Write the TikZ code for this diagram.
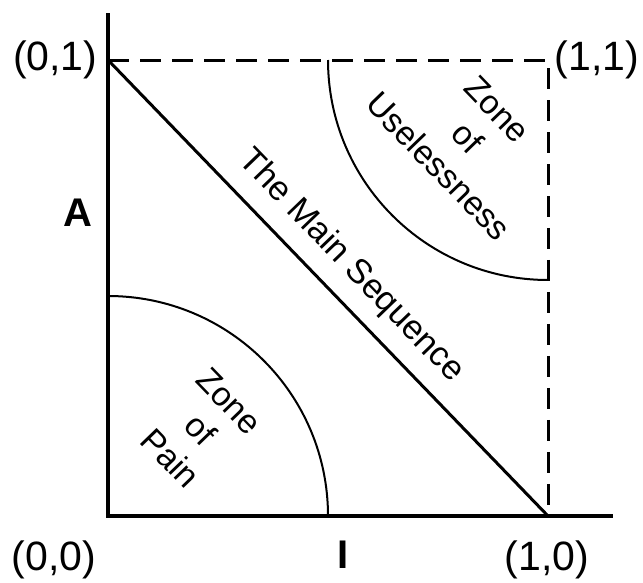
\documentclass[tikz,border=0pt]{standalone}
\usepackage{fontspec}
\setmainfont{Liberation Sans}
\usetikzlibrary{positioning}

\begin{document}
\begin{tikzpicture}[x=220pt,y=228pt,
    axis/.style={line width=2pt},
    seqline/.style={line width=1.5pt},
    bound/.style={line width=1.5pt,dash pattern=on 10.5pt off 5.5pt},
    zonearc/.style={line width=1pt},
    corner/.style={inner sep=0pt,font=\fontsize{20.5}{24}\selectfont},
    axlabel/.style={inner sep=0pt,font=\fontsize{20}{24}\selectfont\bfseries},
    zonetext/.style={inner sep=0pt,align=center,rotate=-46,font=\fontsize{16.8}{20.5}\selectfont}]
  \useasboundingbox (-0.2455,-0.1469) rectangle (1.2159,1.1316);
  % reference points
  \coordinate (O) at (0,0);
  \coordinate (X1) at (1,0);
  \coordinate (Y1) at (0,1);
  \coordinate (C) at (1,1);
  \coordinate (ytop) at (0,1.103);
  \coordinate (xend) at (1.148,0);
  % axes and bounds
  \draw[axis] (ytop) -- (O) -- (xend);
  \draw[bound] (Y1) -- (C) -- (X1);
  \draw[seqline] (Y1) -- (X1);
  \draw[zonearc] (0.5,0) arc[start angle=0,end angle=90,radius=110pt];
  \draw[zonearc] (0.5,1) arc[start angle=180,end angle=270,radius=110pt];
  % labels
  \node[corner] (lbl01) at (-0.120,1) {(0,1)};
  \node[corner] (lbl11) at (1.111,1) {(1,1)};
  \node[corner] (lbl00) at (-0.123,-0.0965) {(0,0)};
  \node[corner] (lbl10) at (0.998,-0.0965) {(1,0)};
  \node[axlabel] (axA) at (-0.068,0.664) {A};
  \node[axlabel] (axI) at (0.534,-0.0855) {I};
  \node[zonetext] (pain) at (0.209,0.189) {Zone\\of\\Pain};
  \node[zonetext] (useless) at (0.818,0.829) {Zone\\of\\Uselessness};
  \node[zonetext,font=\fontsize{17.2}{20}\selectfont] (mainseq) at (0.552,0.548) {The Main Sequence};
\end{tikzpicture}
\end{document}
